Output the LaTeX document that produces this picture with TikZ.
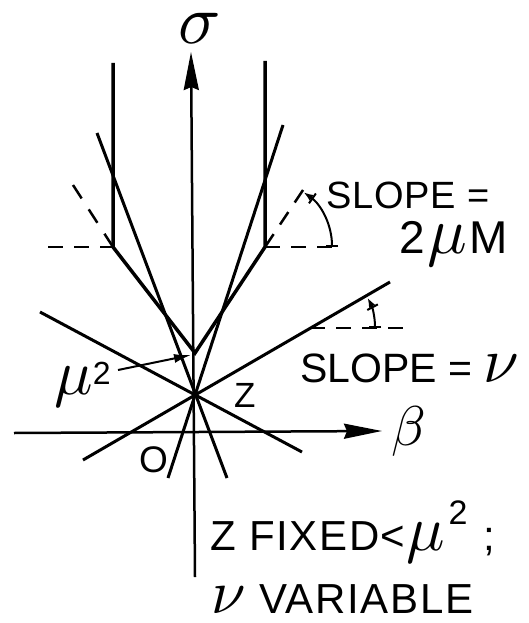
\documentclass[tikz,border=0pt]{standalone}
\usepackage{fontspec}
\usepackage{graphicx}
\setmainfont{Liberation Sans}
\usetikzlibrary{arrows.meta}
\newcommand{\gk}[2]{\scalebox{#1}{\fontsize{10}{12}\selectfont$#2$}}
\begin{document}
\begin{tikzpicture}[x=1pt,y=-1pt,
  thickline/.style={line width=3pt},
  curve/.style={line width=3.5pt, line join=miter},
  axis/.style={line width=2.5pt},
  dashline/.style={line width=2.5pt, dash pattern=on 15pt off 11pt},
  anglearc/.style={line width=2pt, {Bar[width=12pt,line width=2pt]}-{Bar[width=12pt,line width=2pt] Latex[length=10pt,width=7pt]}},
  bigarrow/.style={-{Stealth[length=38pt,width=15pt,inset=3pt]}},
  lbl/.style={font=\fontsize{38}{40}\selectfont, inner sep=0pt, anchor=base west},
  big/.style={font=\fontsize{42}{44}\selectfont\addfontfeature{LetterSpace=4}}
]
\useasboundingbox (0,0) rectangle (528,623);
% key points
\coordinate (Z) at (195,395);
\coordinate (M) at (195,353);
\coordinate (LK) at (113,247);
\coordinate (LT) at (113,63);
\coordinate (RK) at (265,247);
\coordinate (RT) at (265,61);
\coordinate (LD1) at (48,247);
\coordinate (LD2) at (73,185);
\coordinate (RD1) at (335,247);
\coordinate (RD2) at (303,190);
\coordinate (A1) at (283,125);
\coordinate (A2) at (168,478);
\coordinate (B1) at (97,133);
\coordinate (B2) at (227,478);
\coordinate (C1) at (40,312);
\coordinate (C2) at (302,452);
\coordinate (D1) at (390,282);
\coordinate (D2) at (83,460);
\coordinate (DH1) at (310,328);
\coordinate (DH2) at (403,328);
\coordinate (Sb) at (195,577);
\coordinate (St) at (191,52);
\coordinate (Bl) at (14,433);
\coordinate (Br) at (382,431);
\coordinate (MuTail) at (118,370);
\coordinate (MuTip) at (191,355);

% axes
\draw[axis,bigarrow] (Sb) -- (St);
\draw[axis,bigarrow] (Bl) -- (Br);

% lines through Z
\draw[thickline] (A1) -- (A2);
\draw[thickline] (B1) -- (B2);
\draw[thickline] (C1) -- (C2);
\draw[thickline] (D1) -- (D2);

% kinked curve
\draw[curve] (LT) -- (LK) -- (M) -- (RK) -- (RT);

% dashed guides
\draw[dashline] (LD1) -- (LK);
\draw[dashline,dash pattern=on 16pt off 13pt] (LD2) -- (LK);
\draw[dashline] (RK) -- (RD1);
\draw[dashline,dash pattern=on 15pt off 11.5pt] (RD2) -- (RK);
\draw[dashline] (DH1) -- (DH2);

% angle arcs
\draw[anglearc] ([shift={(0:67)}]RK) arc[start angle=0, end angle=-55, radius=67];
\draw[anglearc] ([shift={(0:65)}]DH1) arc[start angle=0, end angle=-28, radius=65];

% mu^2 arrow
\draw[line width=2pt,-{Latex[length=17pt,width=9pt]}] (MuTail) -- (MuTip);

% labels
\node[lbl,anchor=base] (sig) at (200,44) {\gk{7}{\sigma}};
\node[lbl] (bet) at (391,445) {\gk{5.6}{\beta}};
\node[lbl] (mu) at (54,394) {\gk{6.4}{\mu}\raisebox{10pt}{\fontsize{32}{32}\selectfont 2}};
\node[lbl,font=\fontsize{35}{36}\selectfont] (zl) at (234,407) {Z};
\node[lbl,font=\fontsize{37}{38}\selectfont] (ol) at (139,472) {O};
\node[lbl,font=\fontsize{38}{40}\selectfont\addfontfeature{LetterSpace=2}] (s1) at (326,208) {SLOPE =};
\node[lbl,font=\fontsize{46}{48}\selectfont] (s2) at (399,253) {2\hspace{3pt}\gk{6.6}{\mu}\hspace{2pt}M};
\node[lbl,font=\fontsize{41}{43}\selectfont] (s3) at (300,382) {SLOPE = \gk{6.4}{\nu}};
\node[lbl,big] (t1) at (210,550) {Z FIXED\hspace{1pt}<\hspace{1pt}\gk{6.4}{\mu}\hspace{4pt}\raisebox{26pt}{\fontsize{34}{34}\selectfont 2}\hspace{16pt};};
\node[lbl,big] (t2) at (211,613) {\gk{6.2}{\nu} VARIABLE};
\end{tikzpicture}
\end{document}
